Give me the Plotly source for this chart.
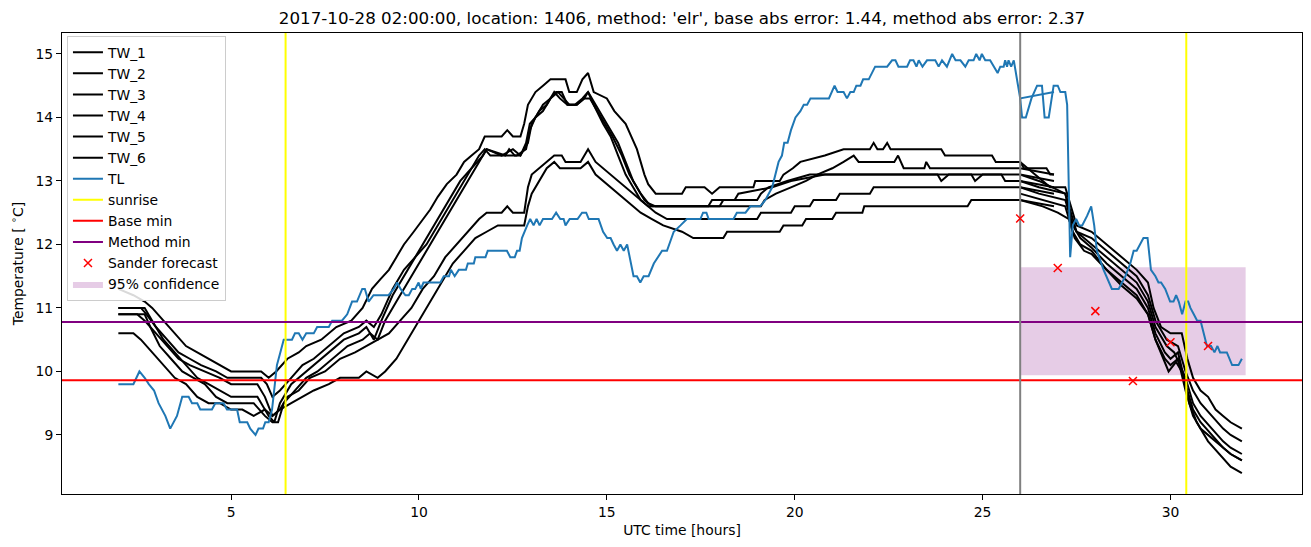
import plotly.graph_objects as go

TITLE = "2017-10-28 02:00:00, location: 1406, method: 'elr', base abs error: 1.44, method abs error: 2.37"

# ---------------- data ----------------
TW_1_hist = [(2.0, 11.3), (2.4, 11.2), (2.7, 11.1), (2.9, 11.0), (3.2, 10.8), (3.5, 10.6), (3.8, 10.4), (4.1, 10.3),
             (4.4, 10.2), (4.7, 10.1), (5.0, 10.0), (5.5, 10.0), (5.8, 10.0), (6.0, 9.9), (6.2, 10.0), (6.5, 10.2),
             (6.8, 10.3), (7.0, 10.4), (7.4, 10.5), (7.8, 10.7), (8.2, 10.8), (8.5, 11.0), (8.75, 11.3), (8.97, 11.45),
             (9.2, 11.6), (9.4, 11.8), (9.6, 12.0), (9.86, 12.2), (10.1, 12.4), (10.3, 12.55), (10.5, 12.75),
             (10.74, 12.95), (11.0, 13.1), (11.2, 13.3), (11.4, 13.4), (11.6, 13.5), (11.75, 13.7), (12.2, 13.7),
             (12.35, 13.8), (12.5, 13.7), (12.7, 13.7), (12.8, 13.9), (12.9, 14.2), (13.1, 14.4), (13.3, 14.5),
             (13.5, 14.6), (13.9, 14.6), (14.0, 14.4), (14.2, 14.4), (14.35, 14.6), (14.5, 14.7), (14.65, 14.4),
             (15.0, 14.3), (15.2, 14.1), (15.5, 13.9), (15.8, 13.5), (16.0, 13.1), (16.1, 12.95), (16.3, 12.8),
             (17.0, 12.8), (17.1, 12.9), (17.6, 12.9), (17.8, 12.8), (18.0, 12.9), (18.9, 12.9), (18.95, 13.0),
             (19.6, 13.0), (19.7, 13.1), (19.95, 13.2), (20.15, 13.3), (20.8, 13.4), (21.3, 13.5), (22.0, 13.5),
             (22.1, 13.6), (22.2, 13.5), (22.35, 13.5), (22.46, 13.6), (22.55, 13.5), (23.9, 13.5), (24.0, 13.4),
             (25.25, 13.4), (25.35, 13.3), (26.0, 13.3), (26.1, 13.2), (26.7, 13.2), (26.8, 13.1), (26.9, 13.1)]
TW_2_hist = [(2.0, 11.0), (2.6, 11.0), (2.75, 10.9), (3.0, 10.7), (3.3, 10.5), (3.6, 10.3), (3.9, 10.2), (4.2, 10.1),
             (4.6, 10.0), (4.9, 9.9), (5.8, 9.9), (5.95, 9.8), (6.1, 9.6), (6.3, 9.7), (6.6, 9.9),
             (6.9, 10.1), (7.2, 10.2), (7.6, 10.4), (8.0, 10.6), (8.4, 10.7), (8.6, 10.8), (8.8, 10.7), (9.0, 10.9),
             (9.3, 11.3), (9.6, 11.6), (9.9, 11.8), (10.2, 12.1), (10.5, 12.4), (10.8, 12.7), (11.1, 13.0),
             (11.4, 13.2), (11.6, 13.4), (11.75, 13.5), (11.9, 13.4), (12.3, 13.4), (12.4, 13.5), (12.55, 13.4),
             (12.7, 13.4), (12.85, 13.6), (12.95, 13.9), (13.1, 14.0), (13.3, 14.2), (13.5, 14.3), (13.65, 14.4),
             (13.8, 14.4), (13.95, 14.2), (14.15, 14.2), (14.35, 14.3), (14.5, 14.4), (14.7, 14.2), (14.9, 14.0),
             (15.1, 13.8), (15.3, 13.6), (15.5, 13.3), (15.7, 13.0), (15.9, 12.8), (16.1, 12.65), (16.3, 12.6),
             (19.1, 12.6), (19.2, 12.7), (19.5, 12.8), (19.9, 12.9), (20.3, 13.0), (20.6, 13.1), (21.0, 13.2),
             (21.3, 13.3), (21.57, 13.4), (21.7, 13.3), (22.65, 13.3), (22.75, 13.4), (22.9, 13.2), (23.45, 13.2),
             (23.5, 13.3), (23.6, 13.2), (26.0, 13.2), (26.9, 13.1)]
TW_3_hist = [(2.0, 11.0), (2.7, 11.0), (2.9, 10.8), (3.2, 10.5), (3.5, 10.3), (3.8, 10.1), (4.1, 9.9), (4.4, 9.8),
             (4.7, 9.7), (5.0, 9.6), (5.7, 9.6), (5.9, 9.4), (6.0, 9.3), (6.15, 9.2), (6.3, 9.5), (6.6, 9.8),
             (6.9, 9.95), (7.2, 10.1), (7.6, 10.3), (8.0, 10.5), (8.4, 10.6), (8.6, 10.7), (8.8, 10.5), (9.0, 10.8),
             (9.3, 11.2), (9.6, 11.5), (9.9, 11.8), (10.2, 12.0), (10.5, 12.3), (10.8, 12.6), (11.1, 12.9),
             (11.4, 13.2), (11.7, 13.4), (11.8, 13.5), (12.3, 13.4), (12.6, 13.4), (12.85, 13.5), (12.95, 13.8),
             (13.1, 14.0), (13.3, 14.1), (13.5, 14.3), (13.7, 14.4), (13.85, 14.3), (14.0, 14.2), (14.2, 14.2),
             (14.4, 14.3), (14.55, 14.3), (14.75, 14.1), (14.95, 13.9), (15.15, 13.7), (15.4, 13.4), (15.6, 13.1),
             (15.8, 12.9), (16.0, 12.7), (16.2, 12.6), (18.0, 12.6), (18.1, 12.7), (19.0, 12.7), (19.1, 12.8),
             (19.3, 12.9), (19.8, 13.0), (20.4, 13.1), (26.0, 13.1), (26.9, 13.0)]
TW_4_hist = [(2.0, 10.9), (2.7, 10.9), (2.85, 10.7), (3.1, 10.4), (3.4, 10.2), (3.7, 10.0), (4.0, 9.9), (4.3, 9.8),
             (4.6, 9.6), (4.9, 9.5), (5.6, 9.5), (5.9, 9.3), (6.1, 9.2), (6.25, 9.2),
             (6.4, 9.5), (6.7, 9.7), (7.0, 9.9), (7.3, 10.0), (7.7, 10.2), (8.1, 10.4), (8.5, 10.5), (8.7, 10.6),
             (8.9, 10.5), (9.1, 10.8), (9.4, 11.1), (9.7, 11.4), (10.0, 11.7), (10.3, 12.0), (10.6, 12.3),
             (10.9, 12.6), (11.2, 12.9), (11.5, 13.2), (11.7, 13.4), (11.8, 13.5), (12.2, 13.4), (12.5, 13.5),
             (12.7, 13.4), (12.9, 13.6), (13.0, 13.9), (13.2, 14.1), (13.4, 14.2), (13.6, 14.4), (13.75, 14.3),
             (13.95, 14.2), (14.2, 14.2), (14.4, 14.3), (14.5, 14.4), (14.65, 14.2), (14.9, 13.9), (15.1, 13.7),
             (15.3, 13.4), (15.5, 13.1), (15.7, 12.9), (15.9, 12.7), (16.1, 12.6), (17.7, 12.6), (17.8, 12.7),
             (18.4, 12.7), (18.5, 12.8), (19.4, 12.9), (19.9, 13.0), (20.8, 13.1), (23.8, 13.1), (23.9, 13.0),
             (24.1, 13.1), (24.7, 13.1), (24.8, 13.0), (25.0, 13.1), (25.5, 13.1), (25.6, 13.0), (26.0, 13.0),
             (26.9, 12.9)]
TW_5_hist = [(2.0, 10.9), (2.5, 10.9), (2.7, 10.8), (3.0, 10.6), (3.3, 10.4), (3.6, 10.2), (3.9, 10.1), (4.3, 10.0),
             (4.7, 9.9), (5.0, 9.8), (5.7, 9.8), (5.9, 9.6), (6.1, 9.3), (6.3, 9.4), (6.5, 9.6),
             (6.8, 9.7), (7.1, 9.9), (7.5, 10.0), (7.9, 10.2), (8.3, 10.3), (8.6, 10.4), (8.9, 10.5), (9.2, 10.6),
             (9.5, 10.8), (9.8, 11.0), (10.1, 11.3), (10.4, 11.5), (10.7, 11.8), (11.0, 12.0), (11.3, 12.2),
             (11.6, 12.4), (11.8, 12.5), (12.2, 12.5), (12.35, 12.6), (12.5, 12.5), (12.8, 12.5), (12.9, 12.9),
             (13.0, 13.1), (13.2, 13.2), (13.4, 13.3), (13.6, 13.4), (13.8, 13.4), (13.9, 13.3), (14.3, 13.3),
             (14.5, 13.5), (14.7, 13.3), (14.9, 13.2), (15.1, 13.1), (15.3, 13.0), (15.5, 12.9), (15.7, 12.8),
             (15.9, 12.7), (16.1, 12.6), (16.3, 12.5), (16.6, 12.4), (19.0, 12.4), (19.1, 12.5), (19.9, 12.5),
             (20.0, 12.6), (20.4, 12.6), (20.5, 12.7), (21.1, 12.7), (21.2, 12.8), (22.0, 12.8), (22.1, 12.9),
             (26.0, 12.9), (26.9, 12.8)]
TW_6_hist = [(2.0, 10.6), (2.4, 10.6), (2.6, 10.5), (2.9, 10.3), (3.2, 10.1), (3.5, 9.9), (3.8, 9.8), (4.1, 9.6),
             (4.4, 9.5), (4.7, 9.5), (5.0, 9.4), (5.3, 9.4), (5.6, 9.3), (5.9, 9.4), (6.1, 9.3), (6.3, 9.4),
             (6.6, 9.5), (6.9, 9.6), (7.2, 9.7), (7.6, 9.8), (7.9, 9.9), (8.4, 9.9), (8.6, 10.0), (8.9, 9.9),
             (9.1, 10.0), (9.4, 10.2), (9.7, 10.5), (10.0, 10.8), (10.3, 11.1), (10.6, 11.4), (10.9, 11.7),
             (11.2, 11.9), (11.5, 12.1), (11.8, 12.2), (12.1, 12.3), (12.8, 12.3), (12.9, 12.6), (13.0, 12.8),
             (13.2, 13.0), (13.4, 13.2), (13.6, 13.3), (13.75, 13.2), (14.3, 13.2), (14.5, 13.3), (14.7, 13.1),
             (14.9, 13.0), (15.1, 12.9), (15.3, 12.8), (15.5, 12.7), (15.7, 12.6), (15.9, 12.5), (16.2, 12.4),
             (16.5, 12.3), (17.0, 12.2), (17.3, 12.1), (18.1, 12.1), (18.2, 12.2), (19.6, 12.2), (19.7, 12.3),
             (20.2, 12.3), (20.3, 12.4), (21.0, 12.4), (21.1, 12.5), (21.8, 12.5), (21.85, 12.6), (24.6, 12.6),
             (24.7, 12.7), (26.0, 12.7), (26.9, 12.6)]

TW_1_fc = [(26.0, 13.3), (26.4, 13.1), (26.8, 12.9), (27.2, 12.9), (27.35, 12.6), (27.5, 12.3), (27.9, 12.2),
           (28.3, 12.0), (28.7, 11.8), (29.1, 11.6), (29.4, 11.4), (29.55, 11.0), (29.75, 10.7), (30.0, 10.6),
           (30.3, 10.6), (30.45, 10.2), (30.6, 9.9), (30.8, 9.7), (31.0, 9.6), (31.2, 9.4), (31.4, 9.3),
           (31.6, 9.2), (31.9, 9.1)]
TW_2_fc = [(26.0, 13.1), (26.5, 13.0), (27.2, 12.8), (27.35, 12.5), (27.5, 12.2), (27.9, 12.1), (28.3, 11.9),
           (28.7, 11.7), (29.1, 11.5), (29.4, 11.2), (29.6, 10.8), (29.9, 10.5), (30.2, 10.4), (30.4, 10.0),
           (30.6, 9.7), (30.8, 9.5), (31.1, 9.3), (31.4, 9.1), (31.6, 9.0), (31.9, 8.9)]
TW_3_fc = [(26.0, 13.0), (26.5, 12.9), (27.2, 12.8), (27.35, 12.4), (27.5, 12.2), (27.9, 12.0), (28.3, 11.8),
           (28.7, 11.6), (29.1, 11.4), (29.4, 11.1), (29.6, 10.7), (29.9, 10.4), (30.1, 10.3), (30.4, 9.9),
           (30.6, 9.5), (30.8, 9.3), (31.1, 9.1), (31.4, 8.9), (31.6, 8.8), (31.9, 8.7)]
TW_4_fc = [(26.0, 12.9), (26.5, 12.8), (27.2, 12.7), (27.4, 12.3), (27.6, 12.1), (27.9, 11.95), (28.3, 11.7),
           (28.7, 11.5), (29.1, 11.3), (29.4, 11.0), (29.6, 10.6), (29.85, 10.3), (30.0, 10.2), (30.2, 10.3),
           (30.4, 9.8), (30.6, 9.4), (30.8, 9.2), (31.1, 9.0), (31.4, 8.8), (31.6, 8.7), (31.9, 8.6)]
TW_5_fc = [(26.0, 12.8), (26.6, 12.7), (27.2, 12.6), (27.4, 12.2), (27.6, 12.0), (27.9, 11.9), (28.3, 11.6),
           (28.7, 11.4), (29.1, 11.2), (29.4, 10.9), (29.6, 10.5), (29.85, 10.2), (30.0, 10.1), (30.2, 10.2),
           (30.4, 9.7), (30.6, 9.3), (30.8, 9.1), (31.1, 8.95), (31.4, 8.8), (31.6, 8.7), (31.9, 8.6)]
TW_6_fc = [(26.0, 12.7), (26.6, 12.6), (27.0, 12.5), (27.3, 12.4), (27.45, 12.1), (27.7, 11.9), (27.9, 11.85),
           (28.3, 11.6), (28.7, 11.35), (29.1, 11.15), (29.4, 10.9), (29.6, 10.5), (29.8, 10.2), (29.95, 10.0),
           (30.15, 10.15), (30.3, 10.0), (30.5, 9.5), (30.7, 9.2), (31.0, 8.9), (31.3, 8.7), (31.6, 8.5),
           (31.9, 8.4)]

TL_hist = [(2.0, 9.8), (2.4, 9.8), (2.56, 10.0), (2.7, 9.9), (2.81, 9.8), (2.95, 9.7), (3.07, 9.5), (3.25, 9.3),
           (3.38, 9.1), (3.56, 9.3), (3.7, 9.6), (3.87, 9.6), (3.96, 9.5), (4.1, 9.5), (4.18, 9.4), (4.49, 9.4),
           (4.58, 9.5), (4.8, 9.5), (4.89, 9.4), (5.16, 9.4), (5.23, 9.2), (5.43, 9.2), (5.51, 9.1), (5.65, 9.0),
           (5.73, 9.1), (5.85, 9.1), (5.91, 9.2), (6.0, 9.2), (6.09, 9.4), (6.22, 10.1), (6.31, 10.3), (6.4, 10.5),
           (6.62, 10.5), (6.7, 10.6), (6.8, 10.6), (6.9, 10.5), (7.0, 10.6), (7.2, 10.6), (7.29, 10.7), (7.6, 10.7),
           (7.69, 10.8), (7.95, 10.8), (8.09, 10.9), (8.22, 11.1), (8.35, 11.1), (8.49, 11.3), (8.56, 11.3),
           (8.66, 11.1), (8.79, 11.2), (9.19, 11.2), (9.33, 11.3), (9.42, 11.4), (9.51, 11.3), (9.64, 11.2),
           (9.73, 11.2), (9.82, 11.3), (9.9, 11.3), (9.99, 11.4), (10.05, 11.3), (10.12, 11.4), (10.57, 11.4),
           (10.66, 11.5), (10.8, 11.5), (10.85, 11.6), (10.95, 11.5), (11.06, 11.6), (11.25, 11.6), (11.3, 11.7),
           (11.46, 11.7), (11.5, 11.8), (11.77, 11.8), (11.83, 11.9), (12.34, 11.9), (12.43, 11.8), (12.55, 11.8),
           (12.61, 11.9), (12.68, 11.9), (12.74, 12.1), (12.88, 12.3), (12.96, 12.4), (13.05, 12.3), (13.13, 12.4),
           (13.21, 12.3), (13.3, 12.4), (13.54, 12.4), (13.65, 12.5), (13.76, 12.4), (13.85, 12.4), (13.9, 12.3),
           (14.01, 12.4), (14.22, 12.4), (14.34, 12.5), (14.45, 12.5), (14.52, 12.4), (14.78, 12.4), (14.9, 12.2),
           (15.01, 12.1), (15.1, 12.1), (15.18, 12.0), (15.27, 11.9), (15.36, 12.0), (15.45, 11.9), (15.54, 12.0),
           (15.71, 11.5), (15.8, 11.5), (15.89, 11.4), (15.98, 11.5), (16.11, 11.5), (16.25, 11.7), (16.47, 11.9),
           (16.6, 11.9), (16.78, 12.2), (16.96, 12.3), (17.13, 12.4), (17.49, 12.4), (17.56, 12.5), (17.65, 12.5),
           (17.71, 12.4), (18.37, 12.4), (18.46, 12.5), (18.69, 12.5), (18.82, 12.6), (19.08, 12.6), (19.22, 12.7),
           (19.4, 12.9), (19.57, 13.3), (19.66, 13.4), (19.72, 13.6), (19.81, 13.6), (19.9, 13.8), (20.02, 14.0),
           (20.15, 14.1), (20.24, 14.2), (20.33, 14.2), (20.42, 14.3), (20.91, 14.3), (21.06, 14.5), (21.14, 14.4),
           (21.3, 14.4), (21.39, 14.3), (21.48, 14.4), (21.57, 14.4), (21.64, 14.5), (21.75, 14.5), (21.82, 14.6),
           (21.97, 14.6), (22.14, 14.8), (22.46, 14.8), (22.59, 14.9), (22.68, 14.9), (22.76, 14.8), (22.99, 14.8),
           (23.07, 14.9), (23.16, 14.9), (23.24, 14.8), (23.3, 14.9), (23.4, 14.8), (23.52, 14.9), (23.74, 14.9),
           (23.83, 14.8), (23.92, 14.9), (24.05, 14.8), (24.19, 15.0), (24.28, 14.9), (24.41, 14.9), (24.54, 14.8),
           (24.63, 14.9), (24.76, 14.9), (24.83, 15.0), (24.92, 14.9), (24.98, 15.0), (25.07, 14.9), (25.2, 14.9),
           (25.29, 14.8), (25.4, 14.7), (25.47, 14.8), (25.56, 14.8), (25.6, 14.9), (25.65, 14.8), (25.69, 14.9),
           (25.76, 14.8), (25.83, 14.9), (26.0, 14.3), (26.9, 14.4)]
TL_fc = [(26.0, 14.3), (26.05, 14.0), (26.15, 14.0), (26.3, 14.3), (26.45, 14.5), (26.58, 14.5), (26.65, 14.0),
         (26.76, 14.0), (26.89, 14.5), (27.0, 14.5), (27.07, 14.4), (27.2, 14.4), (27.25, 14.2), (27.33, 11.8),
         (27.4, 12.3), (27.49, 12.4), (27.57, 12.3), (27.65, 12.3), (27.78, 12.45), (27.89, 12.6), (27.97, 12.3),
         (28.04, 11.9), (28.22, 11.6), (28.44, 11.3), (28.62, 11.3), (28.8, 11.5), (28.93, 11.7), (29.02, 11.9),
         (29.1, 11.9), (29.2, 12.0), (29.28, 12.1), (29.39, 12.1), (29.48, 11.6), (29.6, 11.5), (29.68, 11.4),
         (29.75, 11.4), (29.86, 11.3), (29.99, 11.1), (30.08, 11.1), (30.15, 11.2), (30.22, 11.1), (30.31, 10.9),
         (30.4, 11.1), (30.47, 11.1), (30.53, 11.0), (30.62, 10.9), (30.71, 10.8), (30.8, 10.8), (30.88, 10.6),
         (30.97, 10.4), (31.08, 10.4), (31.17, 10.3), (31.25, 10.4), (31.32, 10.3), (31.5, 10.3), (31.64, 10.1),
         (31.81, 10.1), (31.9, 10.2)]

sunrise_hours = [6.45, 30.42]
forecast_start = 26.0
base_min = 9.86
method_min = 10.78
sander_x = [26, 27, 28, 29, 30, 31]
sander_y = [12.41, 11.63, 10.95, 9.85, 10.46, 10.40]
conf_x = [26.0, 32.0]
conf_lo = 9.94
conf_hi = 11.64

X_RANGE = [0.5, 33.5]
Y_RANGE = [8.07, 15.33]

BLUE = "#1f77b4"
FONT = "DejaVu Sans"
FS = 13.9


def seg(*parts):
    xs, ys = [], []
    for i, p in enumerate(parts):
        if i:
            xs.append(None)
            ys.append(None)
        xs += [a for a, _ in p]
        ys += [b for _, b in p]
    return xs, ys


fig = go.Figure()

# 95% confidence band (drawn beneath the lines)
fig.add_trace(go.Scatter(
    x=[conf_x[0], conf_x[1], conf_x[1], conf_x[0], conf_x[0]],
    y=[conf_lo, conf_lo, conf_hi, conf_hi, conf_lo],
    fill="toself", fillcolor="rgba(128,0,128,0.2)", line=dict(width=0),
    mode="lines", name="95% confidence", legendrank=12, hoverinfo="skip"))

tw = [(TW_1_hist, TW_1_fc), (TW_2_hist, TW_2_fc), (TW_3_hist, TW_3_fc),
      (TW_4_hist, TW_4_fc), (TW_5_hist, TW_5_fc), (TW_6_hist, TW_6_fc)]
for i, (h, f) in enumerate(tw):
    xs, ys = seg(h, f)
    fig.add_trace(go.Scatter(x=xs, y=ys, mode="lines", name=f"TW_{i+1}",
                             line=dict(color="black", width=2), legendrank=i + 1))

xs, ys = seg(TL_hist, TL_fc)
fig.add_trace(go.Scatter(x=xs, y=ys, mode="lines", name="TL",
                         line=dict(color=BLUE, width=2), legendrank=7))

# sunrise vertical lines
sx, sy = [], []
for k, h in enumerate(sunrise_hours):
    if k:
        sx.append(None); sy.append(None)
    sx += [h, h]
    sy += [Y_RANGE[0] - 5, Y_RANGE[1] + 5]
fig.add_trace(go.Scatter(x=sx, y=sy, mode="lines", name="sunrise",
                         line=dict(color="yellow", width=2), legendrank=8))

fig.add_trace(go.Scatter(x=[X_RANGE[0] - 5, X_RANGE[1] + 5], y=[base_min, base_min], mode="lines",
                         name="Base min", line=dict(color="red", width=2), legendrank=9))
fig.add_trace(go.Scatter(x=[X_RANGE[0] - 5, X_RANGE[1] + 5], y=[method_min, method_min], mode="lines",
                         name="Method min", line=dict(color="purple", width=2), legendrank=10))

# forecast-start gray line (no legend)
fig.add_trace(go.Scatter(x=[forecast_start, forecast_start], y=[Y_RANGE[0] - 5, Y_RANGE[1] + 5],
                         mode="lines", line=dict(color="gray", width=2), showlegend=False))

fig.add_trace(go.Scatter(x=sander_x, y=sander_y, mode="markers", name="Sander forecast",
                         marker=dict(symbol="x-thin", size=8, line=dict(color="red", width=1.5), color="red"),
                         legendrank=11))

axis_common = dict(showline=True, linecolor="black", linewidth=1, mirror=True, ticks="outside",
                   ticklen=5, tickwidth=1, tickcolor="black", showgrid=False, zeroline=False,
                   tickfont=dict(family=FONT, size=FS, color="black"))

fig.update_layout(
    width=1311, height=547,
    margin=dict(l=62, r=9, t=33, b=53),
    paper_bgcolor="white", plot_bgcolor="white",
    font=dict(family=FONT, size=FS, color="black"),
    title=dict(text=TITLE, x=0.5, xref="paper", xanchor="center", y=1 - 18 / 547, yref="container",
               yanchor="middle", font=dict(family=FONT, size=16.7, color="black")),
    xaxis=dict(range=X_RANGE, tickvals=[5, 10, 15, 20, 25, 30],
               title=dict(text="UTC time [hours]", font=dict(family=FONT, size=FS), standoff=6),
               **axis_common),
    yaxis=dict(range=Y_RANGE, tickvals=[9, 10, 11, 12, 13, 14, 15],
               title=dict(text="Temperature [ <sup>∘</sup>C]", font=dict(family=FONT, size=FS), standoff=8),
               **axis_common),
    legend=dict(x=0.004, y=0.994, xanchor="left", yanchor="top", bgcolor="rgba(255,255,255,0.85)",
                bordercolor="#cccccc", borderwidth=1, font=dict(family=FONT, size=FS, color="black"),
                traceorder="normal", itemwidth=30),
    showlegend=True,
)

fig.write_html("out.html")
